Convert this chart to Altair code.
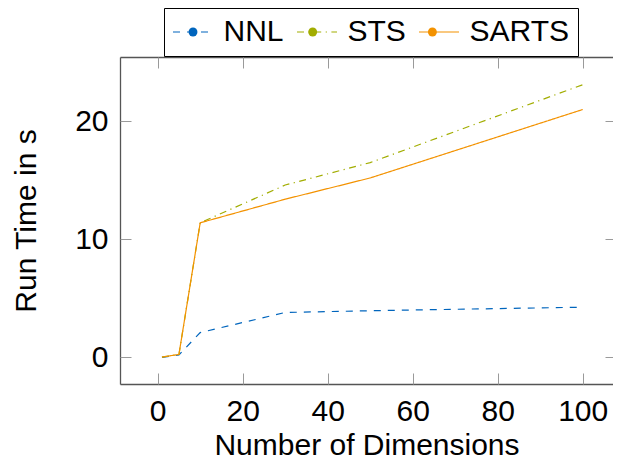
import altair as alt
import pandas as pd

# ---- data ----
dims = [1, 5, 10, 30, 50, 100]
series_names = ["NNL", "STS", "SARTS"]
nnl = [0.0, 0.2, 2.1, 3.8, 3.95, 4.25]
sts = [0.02, 0.25, 11.4, 14.6, 16.5, 23.1]
sarts = [0.02, 0.25, 11.4, 13.4, 15.2, 21.0]
x_ticks = [0, 20, 40, 60, 80, 100]
y_ticks = [0, 10, 20]
colors = ["#0065BD", "#A2AD00", "#F39200"]
dashes = [[7, 7], [7, 4.5, 1.2, 4.5], [1, 0]]

rows = []
for name, vals in zip(series_names, [nnl, sts, sarts]):
    for d, v in zip(dims, vals):
        rows.append({"dim": d, "series": name, "value": v})
df = pd.DataFrame(rows)

FONT = "Liberation Sans"
FS = 30
TICK_C = "#9a9a9a"
DOM_C = "#555555"

xs = alt.Scale(domain=[-8.87, 107.13], nice=False, zero=False)
ys = alt.Scale(domain=[-2.26, 25.45], nice=False, zero=False)

col_scale = alt.Scale(domain=series_names, range=colors)
dash_scale = alt.Scale(domain=series_names, range=dashes)
fill_scale = alt.Scale(domain=series_names[::-1], range=colors[::-1])

# entry slot = max(sqrt(size)+stroke, fontSize) = 30 px; symbol centred at +15
leg_line = alt.Legend(
    orient="none", legendX=44, legendY=-49, direction="horizontal", title=None,
    symbolType="M-3,0H5", symbolSize=100, symbolStrokeWidth=1.2,
    labelFont=FONT, labelFontSize=FS, labelColor="black", labelOffset=20.5,
    columnPadding=10, padding=9, strokeColor="black",
)
# marker dots of the legend, drawn on the middle of each line sample
leg_dot = alt.Legend(
    orient="none", legendX=49, legendY=-49, direction="horizontal", title=None,
    symbolType="circle", symbolSize=79, symbolStrokeWidth=0,
    labelFont=FONT, labelFontSize=FS, labelExpr="''", labelOffset=0,
    columnPadding=89.7, padding=9, values=series_names,
)

def ax(**kw):
    base = dict(grid=False, tickColor=TICK_C, tickWidth=1, domainColor=DOM_C,
                domainWidth=1.3, labelFont=FONT, labelFontSize=FS, labelColor="black",
                titleFont=FONT, titleFontSize=FS, titleColor="black",
                titleFontWeight="normal")
    base.update(kw)
    return alt.Axis(**base)

base = alt.Chart(df)
empty = base.transform_filter(alt.datum.dim < -1000)

lines = base.mark_line(strokeWidth=1.2).encode(
    x=alt.X("dim:Q", scale=xs, axis=ax(orient="bottom", values=x_ticks, offset=-11,
                                       tickSize=11, domain=False, labelPadding=12,
                                       title="Number of Dimensions", titlePadding=4)),
    y=alt.Y("value:Q", scale=ys, axis=ax(orient="left", values=y_ticks, offset=-11,
                                         tickSize=11, domain=False, labelPadding=12,
                                         title="Run Time in s", titlePadding=33)),
    color=alt.Color("series:N", scale=col_scale, legend=leg_line),
    strokeDash=alt.StrokeDash("series:N", scale=dash_scale, legend=leg_line),
)

frame_bl = empty.mark_line().encode(
    x=alt.X("dim:Q", scale=xs, axis=ax(orient="bottom", ticks=False, labels=False, title=None)),
    y=alt.Y("value:Q", scale=ys, axis=ax(orient="left", ticks=False, labels=False, title=None)),
)

frame_tr = empty.mark_line().encode(
    x=alt.X("dim:Q", scale=xs, axis=ax(orient="top", ticks=False, labels=False, title=None)),
    y=alt.Y("value:Q", scale=ys, axis=ax(orient="right", values=y_ticks, offset=-8, tickSize=8,
                                         domain=False, labels=False, title=None)),
)

top_ticks = empty.mark_point(filled=True, opacity=1).encode(
    x=alt.X("dim:Q", scale=xs, axis=ax(orient="top", values=x_ticks, offset=-11, tickSize=11,
                                       domain=False, labels=False, title=None)),
    y=alt.Y("value:Q", scale=ys, axis=None),
    fill=alt.Fill("series:N", scale=fill_scale, legend=leg_dot),
)

chart = (
    alt.layer(frame_bl, frame_tr, top_ticks, lines)
    .resolve_axis(x="independent", y="independent")
    .properties(width=493, height=327, autosize=alt.AutoSizeParams(type="none"),
                padding={"left": 112, "top": 49, "right": 0, "bottom": 71})
    .configure_view(stroke=None)
)

chart.save("out.html", embed_options={"renderer": "svg", "actions": False})
